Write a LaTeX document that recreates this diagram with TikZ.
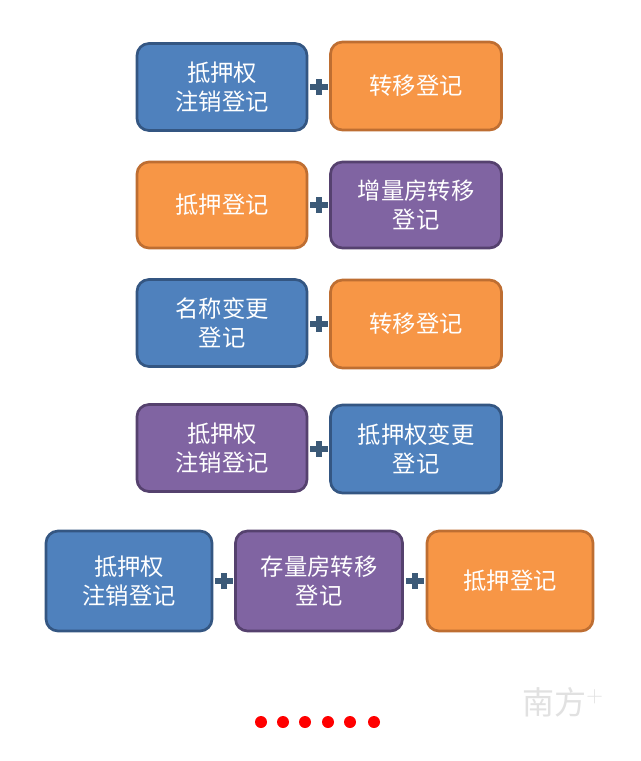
\documentclass[tikz,border=0pt]{standalone}
\usepackage{fontspec}
\newfontfamily\cjk{Noto Sans CJK SC}
\begin{document}
\begin{tikzpicture}[x=0.75pt,y=-0.75pt,
 box/.style={draw, line width=2pt, rounded corners=9pt, inner sep=0pt, text=white, font=\cjk\fontsize{17.5}{22}\selectfont, align=center},
 bl/.style={box, fill={rgb,255:red,79;green,129;blue,189}, draw={rgb,255:red,52;green,86;blue,130}},
 og/.style={box, fill={rgb,255:red,247;green,150;blue,70}, draw={rgb,255:red,190;green,110;blue,50}},
 pu/.style={box, fill={rgb,255:red,128;green,100;blue,162}, draw={rgb,255:red,85;green,65;blue,110}},
 plus/.style={fill={rgb,255:red,60;green,90;blue,120}},
 dot/.style={circle, fill=red, inner sep=0pt, minimum size=9pt}]
\fill[white] (0,0) rectangle (640,761);
\newcommand\bx[6]{\node[#1, minimum width=#4*0.75pt, minimum height=#5*0.75pt] (#2) at (#3) {#6};}
\bx{bl}{a1}{222,87}{170}{87}{抵押权\\注销登记}
\bx{og}{a2}{416,86}{171}{88}{转移登记}
\bx{og}{b1}{222,205}{170}{86}{抵押登记}
\bx{pu}{b2}{416,205}{171}{86}{增量房转移\\登记}
\bx{bl}{c1}{222,323}{170}{87}{名称变更\\登记}
\bx{og}{c2}{416,324}{171}{88}{转移登记}
\bx{pu}{d1}{222,448}{170}{87}{抵押权\\注销登记}
\bx{bl}{d2}{416,449}{171}{88}{抵押权变更\\登记}
\bx{bl}{e1}{129,581}{166}{100}{抵押权\\注销登记}
\bx{pu}{e2}{319,581}{167}{100}{存量房转移\\登记}
\bx{og}{e3}{510,581}{166}{100}{抵押登记}
\foreach \p/\q [count=\i] in {a1/a2,b1/b2,c1/c2,d1/d2,e1/e2,e2/e3}{
 \path (\p.east) -- (\q.west) coordinate[midway] (p\i);
 \fill[plus] ([xshift=-9*0.75pt,yshift=-3*0.75pt]p\i) rectangle ([xshift=9*0.75pt,yshift=3*0.75pt]p\i);
 \fill[plus] ([xshift=-3*0.75pt,yshift=-8*0.75pt]p\i) rectangle ([xshift=3*0.75pt,yshift=8*0.75pt]p\i);
}
\foreach \x [count=\i] in {261,283,305,328,350,374}{\node[dot] (dot\i) at (\x,722) {};}
\node[text={rgb,255:red,225;green,225;blue,225}, font=\cjk\itshape\fontsize{24}{26}\selectfont] (wm) at (563,702) {南方$^{+}$};
\end{tikzpicture}
\end{document}
